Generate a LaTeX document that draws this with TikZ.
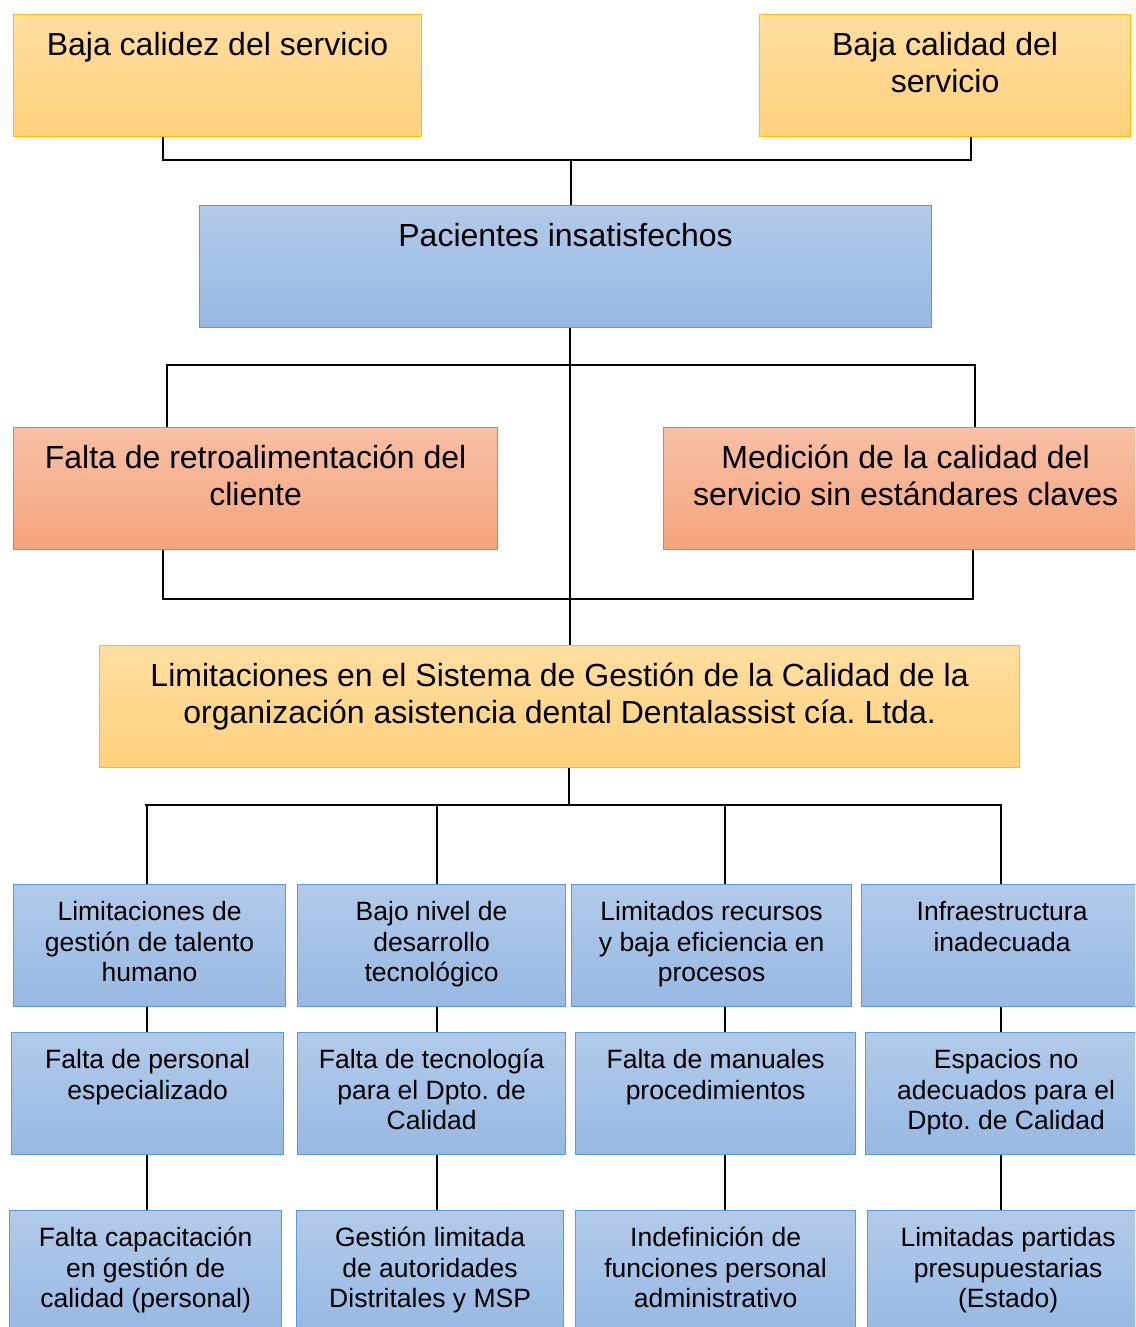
\documentclass[tikz,border=0pt]{standalone}
\usepackage{fontspec}
\setmainfont{Liberation Sans}
\usetikzlibrary{positioning}
\frenchspacing

\definecolor{amarilloA}{RGB}{255,222,160}
\definecolor{amarilloB}{RGB}{254,209,124}
\definecolor{amarilloL}{RGB}{255,192,0}
\definecolor{azulA}{RGB}{178,202,234}
\definecolor{azulB}{RGB}{151,185,227}
\definecolor{azulL}{RGB}{91,155,213}
\definecolor{naranjaA}{RGB}{247,192,166}
\definecolor{naranjaB}{RGB}{244,164,124}
\definecolor{naranjaL}{RGB}{237,125,49}

% texto arriba en la caja
\newcommand{\grande}[2]{\parbox[b][122pt][t]{#1pt}{\centering\rule{0pt}{41pt}#2}}
\newcommand{\chico}[2]{\parbox[b][122pt][t]{#1pt}{\centering\rule{0pt}{36pt}#2}}

\tikzset{
  caja/.style={inner sep=0pt, anchor=north west, line width=1.2pt},
  ycaja/.style={caja, draw=amarilloL, top color=amarilloA, bottom color=amarilloB,
    font=\fontsize{32}{37}\selectfont},
  ocaja/.style={caja, draw=naranjaL, top color=naranjaA, bottom color=naranjaB,
    font=\fontsize{32}{37}\selectfont},
  bcaja/.style={caja, draw=azulL, top color=azulA, bottom color=azulB,
    font=\fontsize{32}{37}\selectfont},
  scaja/.style={caja, draw=azulL, top color=azulA, bottom color=azulB,
    font=\fontsize{26.5}{30.5}\selectfont},
  linea/.style={draw=black, line width=1.2pt}
}

\begin{document}
\begin{tikzpicture}[x=1pt, y=-1pt]
\useasboundingbox (0,0) rectangle (1135,1327);
\clip (0,0) rectangle (1135,1327);

% efectos
\node[ycaja] (calidez) at (13,14) {\grande{408}{Baja calidez del servicio}};
\node[ycaja] (calidad) at (759,14) {\grande{371}{Baja calidad del\\servicio}};
\node[bcaja] (pacientes) at (199,205) {\grande{732}{Pacientes insatisfechos}};
\node[ocaja] (retro) at (13,427) {\grande{484}{Falta de retroalimentación del\\cliente}};
\node[ocaja] (medicion) at (663,427) {\grande{484}{Medición de la calidad del\\servicio sin estándares claves}};

% problema central
\node[ycaja] (sistema) at (99,645) {\grande{920}{Limitaciones en el Sistema de Gestión de la Calidad de la\\organización asistencia dental Dentalassist cía. Ltda.}};

% causas
\node[scaja] (talento) at (13,884) {\chico{272}{Limitaciones de\\gestión de talento\\humano}};
\node[scaja] (tecno) at (297,884) {\chico{268}{Bajo nivel de\\desarrollo\\tecnológico}};
\node[scaja] (recursos) at (571,884) {\chico{280}{Limitados recursos\\y baja eficiencia en\\procesos}};
\node[scaja] (infra) at (861,884) {\chico{281}{Infraestructura\\inadecuada}};

\node[scaja] (personal) at (11,1032) {\chico{272}{Falta de personal\\especializado}};
\node[scaja] (tecnologia) at (297,1032) {\chico{268}{Falta de tecnología\\para el Dpto. de\\Calidad}};
\node[scaja] (manuales) at (575,1032) {\chico{280}{Falta de manuales\\procedimientos}};
\node[scaja] (espacios) at (865,1032) {\chico{281}{Espacios no\\adecuados para el\\Dpto. de Calidad}};

\node[scaja] (capacit) at (9,1210) {\chico{272}{Falta capacitación\\en gestión de\\calidad (personal)}};
\node[scaja] (autoridades) at (296,1210) {\chico{267}{Gestión limitada\\de autoridades\\Distritales y MSP}};
\node[scaja] (funciones) at (575,1210) {\chico{280}{Indefinición de\\funciones personal\\administrativo}};
\node[scaja] (partidas) at (867,1210) {\chico{281}{Limitadas partidas\\presupuestarias\\(Estado)}};

% conectores
\coordinate (b1w) at (163,160);
\coordinate (b1e) at (971,160);
\coordinate (b1m) at (571,160);
\coordinate (b2w) at (167,365);
\coordinate (b2e) at (975,365);
\coordinate (b3w) at (163,599);
\coordinate (b3e) at (973,599);
\coordinate (eje) at (570,0);
\coordinate (b4w) at (145,805);
\coordinate (b4e) at (1002,805);
\coordinate (b4m) at (569,805);

\draw[linea] (calidez.south -| b1w) -- (b1w) -- (b1e) -- (calidad.south -| b1e);
\draw[linea] (b1m) -- (pacientes.north -| b1m);
\draw[linea] (pacientes.south -| eje) -- (sistema.north -| eje);
\draw[linea] (retro.north -| b2w) -- (b2w) -- (b2e) -- (medicion.north -| b2e);
\draw[linea] (retro.south -| b3w) -- (b3w) -- (b3e) -- (medicion.south -| b3e);
\draw[linea] (sistema.south -| b4m) -- (b4m);
\draw[linea] (b4w) -- (b4e);
\foreach \x/\a/\b/\c in {147/talento/personal/capacit, 437/tecno/tecnologia/autoridades,
    725/recursos/manuales/funciones, 1001/infra/espacios/partidas} {
  \draw[linea] (\x,805) -- (\a.north -| \x,0);
  \draw[linea] (\a.south -| \x,0) -- (\b.north -| \x,0);
  \draw[linea] (\b.south -| \x,0) -- (\c.north -| \x,0);
}
\end{tikzpicture}
\end{document}
